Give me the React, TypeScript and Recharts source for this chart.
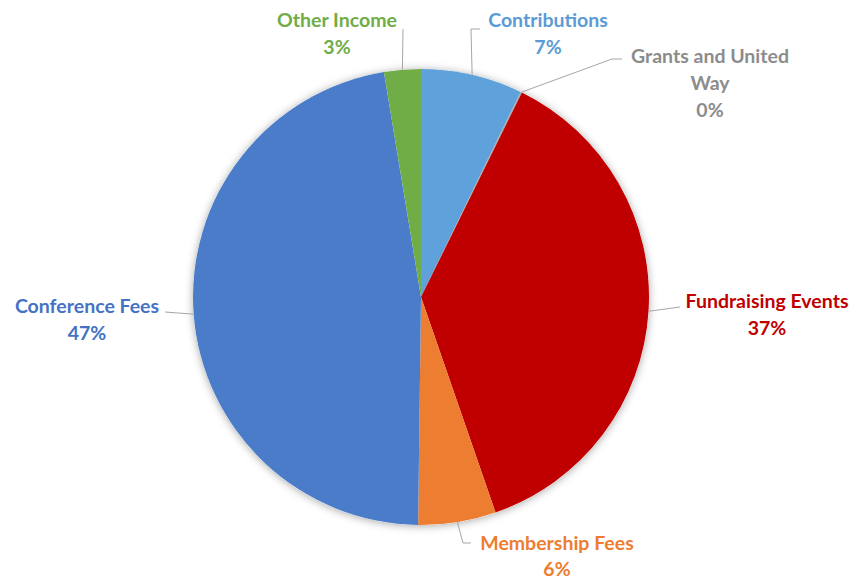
import React from "react";
import { PieChart, Pie, Cell } from "recharts";

const categories = [
  "Contributions",
  "Grants and United Way",
  "Fundraising Events",
  "Membership Fees",
  "Conference Fees",
  "Other Income",
];
const values = [7.2, 0.1, 37.4, 5.5, 47.2, 2.6];
const colors = ["#5FA2DB", "#A5A5A5", "#C00000", "#ED7D31", "#4A7CC9", "#70AD47"];
const labelColors = ["#5B9BD5", "#8C8C8C", "#C00000", "#ED7D31", "#4472C4", "#70AD47"];
const labelLines = [
  ["Contributions"],
  ["Grants and United", "Way"],
  ["Fundraising Events"],
  ["Membership Fees"],
  ["Conference Fees"],
  ["Other Income"],
];

// where each label box sits, and the leader line's bends
const labelLayout = [
  { x: 548, y: 19, path: [[471, 29], [480, 29]] },
  { x: 710, y: 55, path: [[612, 59], [622, 59]] },
  { x: 767, y: 300, path: [[680, 307]] },
  { x: 557, y: 542, path: [[463, 543], [471, 543]] },
  { x: 87, y: 305, path: [[165, 312]] },
  { x: 337, y: 19, path: [[403, 29]] },
];

const data = categories.map((name, i) => ({ name, value: values[i] }));
const RAD = Math.PI / 180;
const LINE_H = 27;

function renderLabel(props: any) {
  const { cx, cy, midAngle, outerRadius, index, percent } = props;
  const sx = cx + outerRadius * Math.cos(-midAngle * RAD);
  const sy = cy + outerRadius * Math.sin(-midAngle * RAD);
  const lay = labelLayout[index];
  const pts = [[sx, sy], ...lay.path].map((p) => p.join(",")).join(" ");
  const lines = [...labelLines[index], `${Math.round(percent * 100)}%`];
  return (
    <g key={`lbl-${index}`}>
      <polyline points={pts} fill="none" stroke="#A6A6A6" strokeWidth={1} />
      {lines.map((t, j) => (
        <text
          key={j}
          x={lay.x}
          y={lay.y + j * (index === 3 ? 26 : LINE_H)}
          textAnchor="middle"
          dominantBaseline="central"
          fill={labelColors[index]}
          fontSize={19.5}
          fontWeight={700}
          fontFamily="Lato, 'Open Sans', sans-serif"
        >
          {t}
        </text>
      ))}
    </g>
  );
}

export default function App() {
  return (
    <div style={{ position: "absolute", left: 0, top: 0, width: 857, height: 578, background: "#fff" }}>
      <svg width={0} height={0} style={{ position: "absolute" }}>
        <defs>
          <filter id="pieShadow" x="-20%" y="-20%" width="140%" height="140%">
            <feDropShadow dx={0} dy={1} stdDeviation={4} floodColor="#000" floodOpacity={0.35} />
          </filter>
        </defs>
      </svg>
      <PieChart width={857} height={578} margin={{ top: 0, right: 0, bottom: 0, left: 0 }}>
        <Pie
          data={[{ name: "bg", value: 1 }]}
          dataKey="value"
          cx={421}
          cy={297}
          outerRadius={228}
          startAngle={90}
          endAngle={-270}
          stroke="none"
          fill="#ffffff"
          style={{ filter: "url(#pieShadow)" }}
          isAnimationActive={false}
          label={false}
          labelLine={false}
        />
        <Pie
          data={data}
          dataKey="value"
          nameKey="name"
          cx={421}
          cy={297}
          outerRadius={228}
          startAngle={90}
          endAngle={-270}
          stroke="none"
          isAnimationActive={false}
          labelLine={false}
          label={renderLabel}
        >
          {data.map((d, i) => (
            <Cell key={d.name} fill={colors[i]} />
          ))}
        </Pie>
      </PieChart>
    </div>
  );
}
